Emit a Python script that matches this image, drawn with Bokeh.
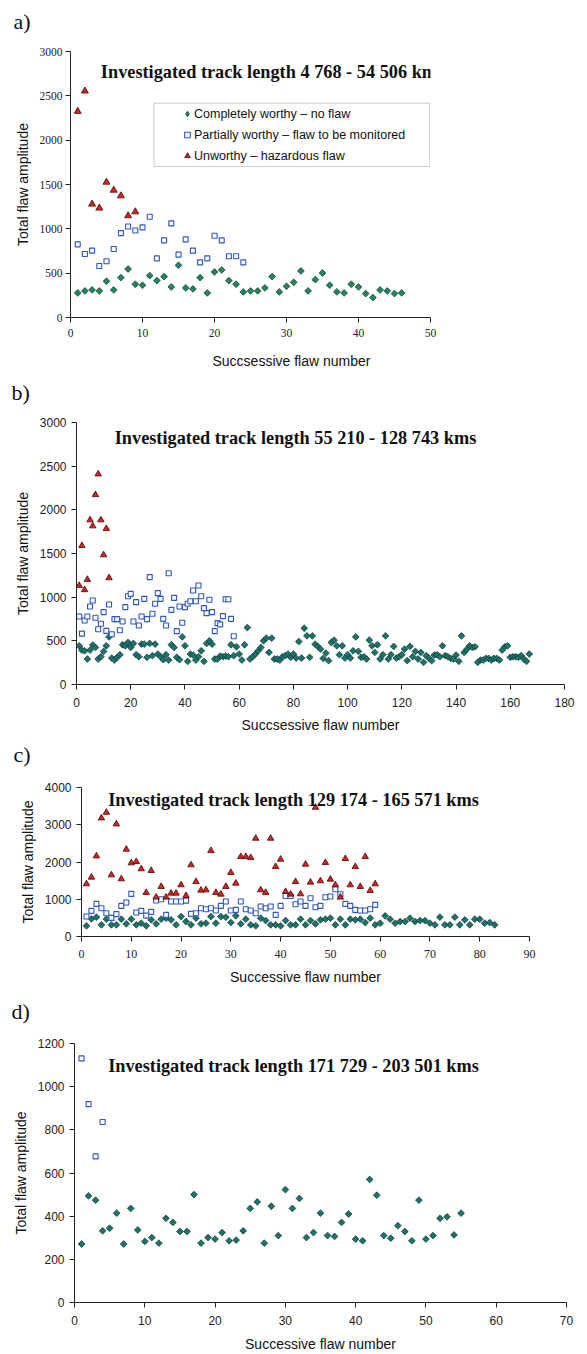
import numpy as np
from bokeh.plotting import figure
from bokeh.models import Range1d, FixedTicker, Label, Legend, LegendItem, BoxAnnotation, Title
from bokeh.embed import file_html
from bokeh.resources import INLINE

# ---------------- data ----------------
a_worthy = [277, 300, 311, 300, 409, 311, 450, 547, 375, 364, 472, 416, 461, 345, 589, 334, 322, 450, 277, 514,
            536, 416, 375, 289, 300, 300, 334, 461, 289, 352, 397, 525, 300, 427, 502, 364, 289, 277, 375, 345,
            270, 225, 311, 300, 270, 277]
a_monitor = [825, 716, 754, 581, 634, 772, 952, 1027, 982, 1016, 1136, 667, 870, 1061, 709, 881, 754, 622, 667, 922,
             870, 690, 690, 622]
a_hazard = [2325, 2554, 1279, 1234, 1526, 1436, 1372, 1148, 1192]

b_hazard = [1133, 1590, 1084, 1202, 1884, 1815, 2173, 2410, 1884, 1484, 1785, 1221]
b_monitor = [779, 583, 733, 779, 893, 962, 764, 633, 695, 829, 614, 916, 576, 749, 749, 621, 722, 886, 1011, 1038,
             722, 943, 676, 779, 981, 749, 1229, 810, 924, 1046, 981, 752, 676, 1274, 855, 992, 611, 893, 707, 886,
             924, 954, 1076, 954, 1133, 1011, 874, 817, 970, 829, 611, 703, 688, 783, 977, 977, 752, 553]
b_worthy = [443, 394, 386, 292, 394, 451, 424, 292, 318, 379, 443, 545, 303, 280, 311, 341, 455, 443, 481, 424,
            470, 341, 318, 462, 462, 311, 470, 330, 462, 349, 318, 284, 341, 280, 455, 424, 311, 284, 545, 443,
            265, 349, 337, 280, 318, 386, 265, 470, 500, 462, 292, 292, 326, 318, 326, 318, 455, 330, 432, 349,
            280, 455, 652, 292, 318, 349, 386, 424, 500, 530, 367, 530, 292, 292, 280, 318, 330, 349, 311, 349,
            303, 492, 303, 644, 557, 311, 557, 462, 436, 405, 299, 360, 273, 481, 508, 443, 341, 443, 303, 341,
            303, 386, 545, 379, 311, 318, 292, 508, 443, 367, 455, 292, 341, 557, 292, 341, 436, 303, 318, 341,
            405, 273, 436, 318, 379, 292, 367, 254, 330, 303, 273, 337, 341, 318, 443, 330, 318, 299, 292, 337,
            265, 557, 367, 405, 443, 424, 432, 254, 280, 280, 299, 299, 280, 299, 299, 280, 394, 432, 443, 311,
            318, 318, 311, 330, 292, 265, 349]

c_hazard = [1411, 1590, 2161, 3179, 3331, 1652, 3018, 1545, 2340, 1974, 2009, 1813, 1179, 1768, 1054, 1340, 1054,
            1161, 1161, 1384, 1098, 1920, 1473, 1241, 1250, 2304, 1179, 1134, 1340, 1715, 1429, 2143, 2143, 2116,
            2634, 1250, 1179, 2634, 1875, 2072, 1205, 1134, 1473, 1143, 1938, 1456, 3465, 1491, 1982, 1536, 1384,
            1054, 2090, 1384, 1875, 1340, 2143, 1232, 1411]
c_monitor = [536, 688, 875, 759, 625, 500, 600, 822, 911, 1143, 643, 688, 560, 661, 965, 1000, 580, 938, 938, 938,
             964, 607, 625, 759, 732, 759, 697, 822, 938, 697, 714, 938, 732, 697, 625, 804, 759, 804, 580, 822,
             1089, 1089, 866, 938, 822, 1027, 786, 822, 1054, 1072, 1268, 1134, 875, 822, 714, 697, 697, 732, 848]
c_worthy = [287, 474, 519, 313, 465, 313, 313, 465, 340, 465, 313, 357, 287, 447, 340, 465, 492, 447, 313, 536,
            402, 313, 492, 340, 357, 536, 357, 536, 519, 375, 554, 340, 465, 313, 287, 492, 429, 313, 313, 287,
            429, 313, 313, 465, 313, 429, 340, 447, 465, 492, 313, 465, 313, 465, 447, 465, 375, 492, 313, 357,
            554, 465, 357, 402, 402, 492, 402, 429, 429, 357, 313, 519, 313, 313, 519, 313, 447, 313, 465, 465,
            357, 375, 313]

d_monitor = [1131, 919, 677, 836]
d_worthy = [271, 494, 474, 332, 344, 414, 271, 436, 336, 283, 301, 275, 390, 371, 329, 329, 500, 275, 301, 294,
            324, 286, 289, 332, 436, 466, 275, 446, 310, 523, 436, 482, 301, 324, 414, 310, 306, 371, 410, 294,
            286, 570, 497, 310, 298, 356, 329, 286, 474, 294, 310, 390, 397, 313, 414]

titles = ["Investigated track length 4 768 - 54 506 kms",
          "Investigated track length 55 210 - 128 743 kms",
          "Investigated track length 129 174 - 165 571 kms",
          "Investigated track length 171 729 - 203 501 kms"]
legend_labels = ["Completely worthy \u2013 no flaw",
                 "Partially worthy \u2013 flaw to be monitored",
                 "Unworthy \u2013 hazardous flaw"]

SERIF = "Liberation Serif"
SANS = "Liberation Sans"
GREEN_A = "#23875a"
TEAL = "#1b736c"
BLUE = "#2f55c0"
RED = "#e01e1e"
DARK = "#0e332e"


def idx(vals):
    return list(range(1, len(vals) + 1))


def make_fig(h, bl, br, bt, bb, xr, yr, xticks, yticks, xfont, yfont, xsize, ysize, ystand, xstand,
             xlabel, xlab_stand):
    p = figure(width=587, height=h, x_range=Range1d(*xr), y_range=Range1d(*yr),
               output_backend="svg", toolbar_location=None,
               min_border_left=bl, min_border_right=br, min_border_top=bt, min_border_bottom=bb)
    p.outline_line_color = None
    p.grid.visible = False
    p.background_fill_color = "white"
    p.border_fill_color = "white"
    for ax, ticks, font, size in ((p.xaxis, xticks, xfont, xsize), (p.yaxis, yticks, yfont, ysize)):
        ax.ticker = FixedTicker(ticks=ticks)
        ax.minor_tick_line_color = None
        ax.major_tick_in = 0
        ax.major_tick_out = 5
        ax.axis_line_color = "#222222"
        ax.major_tick_line_color = "#222222"
        ax.major_label_text_font = font
        ax.major_label_text_font_size = size
        ax.major_label_text_color = "#222222"
        ax.axis_label_text_font = SANS
        ax.axis_label_text_font_size = "14px"
        ax.axis_label_text_font_style = "normal"
        ax.axis_label_text_color = "#111111"
    p.xaxis.major_label_standoff = xstand
    p.yaxis.major_label_standoff = ystand
    p.yaxis.axis_label = "Total flaw amplitude"
    p.yaxis.axis_label_standoff = 6
    if xlabel:
        p.xaxis.axis_label = xlabel
        p.xaxis.axis_label_standoff = xlab_stand
    return p


def letter(p, text, offset, spacer):
    # spacer title next to the frame pushes the panel letter upwards
    p.add_layout(Title(text=" ", text_font_size="1px", standoff=spacer), "above")
    p.add_layout(Title(text=text, align="left", offset=offset, vertical_align="top", standoff=0,
                       text_font=SERIF, text_font_size="22px", text_font_style="normal",
                       text_color="#111111"), "above")


def inner_title(p, x, y, text):
    p.add_layout(Label(x=x, y=y, x_units="screen", y_units="screen", text=text, text_font=SERIF,
                       text_font_size="18.3px", text_font_style="bold", text_align="center",
                       text_baseline="middle", text_color="#111111"))


def worthy(p, vals, color):
    return p.scatter(idx(vals), vals, marker="square", angle=np.pi / 4, size=4.8,
                     fill_color=color, line_color=DARK, line_width=0.7)


def monitor(p, vals):
    return p.scatter(idx(vals), vals, marker="square", size=5, fill_color="white",
                     line_color=BLUE, line_width=1.1)


def hazard(p, vals, size=6.5):
    return p.scatter(idx(vals), vals, marker="triangle", size=size, fill_color=RED,
                     line_color="#3a0c0c", line_width=0.8)


# ---------------- panel a ----------------
pa = make_fig(375, 70, 157, 51, 58, (0, 50), (0, 3000), list(range(0, 51, 10)), list(range(0, 3001, 500)),
              SERIF, SERIF, "11.5px", "11.5px", 3, 6, None, 0)
ra_g = worthy(pa, a_worthy, GREEN_A)
ra_b = monitor(pa, a_monitor)
ra_r = hazard(pa, a_hazard, 7)
# legend key for the diamond series (no visible point of its own)
ra_key = pa.scatter(x=[np.nan], y=[np.nan], marker="diamond", fill_color=GREEN_A, line_color=DARK,
                    line_width=0.7)
pa.add_layout(BoxAnnotation(left=11.6, right=49.9, bottom=1703, top=2417, fill_alpha=0,
                            line_color="#555555", line_width=1))
leg = Legend(items=[LegendItem(label=legend_labels[0], renderers=[ra_key]),
                    LegendItem(label=legend_labels[1], renderers=[ra_b]),
                    LegendItem(label=legend_labels[2], renderers=[ra_r])],
             location=(110, 153), padding=0, margin=0, spacing=4, glyph_width=14, glyph_height=17,
             label_height=17, label_standoff=0, border_line_alpha=0, background_fill_alpha=0,
             label_text_font=SANS, label_text_font_size="12.5px", label_text_color="#111111")
pa.add_layout(leg, "center")
# x title of panel a sits right of the frame centre: spacer + title below the axis
pa.add_layout(Title(text=" ", text_font_size="1px", standoff=8), "below")
pa.add_layout(Title(text="Succsessive flaw number", align="left", offset=142, vertical_align="bottom",
                    standoff=0, text_font=SANS, text_font_size="14px", text_font_style="normal",
                    text_color="#111111"), "below")
letter(pa, "a)", -57, 13)
inner_title(pa, 202, 246, titles[0])

# ---------------- panel b ----------------
pb = make_fig(365, 76, 23, 47, 56, (0, 180), (0, 3000), list(range(0, 181, 20)), list(range(0, 3001, 500)),
              SANS, SANS, "12px", "12px", 5, 8, "Succsessive flaw number", 7)
worthy(pb, b_worthy, TEAL)
monitor(pb, b_monitor)
hazard(pb, b_hazard)
letter(pb, "b)", -65, 13)
inner_title(pb, 219, 247, titles[1])

# ---------------- panel c ----------------
pc = make_fig(252, 81, 58, 47, 56, (0, 90), (0, 4000), list(range(0, 91, 10)), list(range(0, 4001, 1000)),
              SERIF, SANS, "12px", "12px", 5, 8, "Successive flaw number", 8)
worthy(pc, c_worthy, TEAL)
monitor(pc, c_monitor)
hazard(pc, c_hazard)
letter(pc, "c)", -68, 16)
inner_title(pc, 212, 137, titles[2])

# ---------------- panel d ----------------
pd = make_fig(362, 74, 21, 51, 51, (0, 70), (0, 1200), list(range(0, 71, 10)), list(range(0, 1201, 200)),
              SANS, SANS, "12px", "12px", 5, 8, "Successive flaw number", 8)
worthy(pd, d_worthy, TEAL)
monitor(pd, d_monitor)
letter(pd, "d)", -63, 15)
inner_title(pd, 219, 237, titles[3])

open("out.html", "w").write(file_html([pa, pb, pc, pd], INLINE))
